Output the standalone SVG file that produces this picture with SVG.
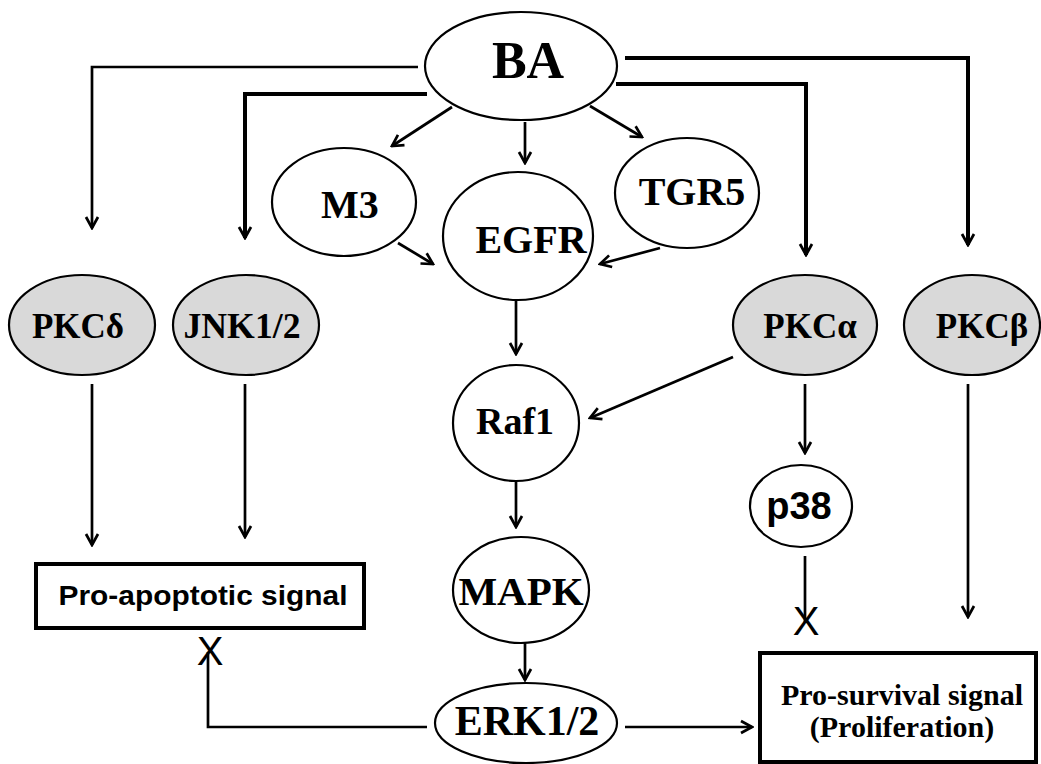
<svg xmlns="http://www.w3.org/2000/svg" width="1041" height="764" viewBox="0 0 1041 764">
<style>
.n{fill:#fff;stroke:#000;stroke-width:2.2}
.g{fill:#d9d9d9;stroke:#000;stroke-width:2.2}
.t{font-family:"Liberation Serif","Times New Roman",serif;font-weight:bold;fill:#000;text-anchor:middle}
.s{font-family:"Liberation Sans",Arial,sans-serif;font-weight:bold;fill:#000;text-anchor:middle}
.x{font-family:"Liberation Sans",Arial,sans-serif;font-weight:normal;fill:#000;text-anchor:middle;font-size:40px}
.c{fill:none;stroke:#000;stroke-width:2.7}
.k{fill:none;stroke:#000;stroke-width:4}
.box{fill:#fff;stroke:#000;stroke-width:4}
</style>
<defs>
<marker id="ah" markerUnits="userSpaceOnUse" markerWidth="16" markerHeight="16" viewBox="0 0 16 16" refX="14" refY="8" orient="auto">
<path d="M3,2 L14,8 L3,14" fill="none" stroke="#000" stroke-width="2.7"/>
</marker>
</defs>
<rect width="1041" height="764" fill="#fff"/>
<g id="connectors">
<path class="c" d="M418,67 H92 V228" marker-end="url(#ah)"/>
<path class="k" d="M427,94 H245 V238" marker-end="url(#ah)"/>
<path class="k" d="M625,58 H968 V245" marker-end="url(#ah)"/>
<path class="k" d="M616,84 H806 V255" marker-end="url(#ah)"/>
<path class="c" d="M452,107 L392,146" marker-end="url(#ah)"/>
<path class="c" d="M525,122 V163" marker-end="url(#ah)"/>
<path class="c" d="M590,106 L642,137" marker-end="url(#ah)"/>
<path class="c" d="M398,243 L433,264" marker-end="url(#ah)"/>
<path class="c" d="M660,248 L600,264" marker-end="url(#ah)"/>
<path class="c" d="M516,300 V354" marker-end="url(#ah)"/>
<path class="c" d="M733,357 L590,418" marker-end="url(#ah)"/>
<path class="c" d="M805,384 V453" marker-end="url(#ah)"/>
<path class="c" d="M92,384 V545" marker-end="url(#ah)"/>
<path class="c" d="M245,384 V537" marker-end="url(#ah)"/>
<path class="c" d="M968,384 V617" marker-end="url(#ah)"/>
<path class="c" d="M516,482 V527" marker-end="url(#ah)"/>
<path class="c" d="M525,643 V680" marker-end="url(#ah)"/>
<path class="c" d="M625,727 H752" marker-end="url(#ah)"/>
<path class="c" d="M805,556 V622"/>
<path class="c" d="M427,727 H208 V652"/>
<text class="x" x="806" y="635">X</text>
<text class="x" x="210" y="665">X</text>
</g>
<g id="BA"><ellipse class="n" cx="521" cy="66" rx="96" ry="54"/><text class="t" x="528" y="78" font-size="52">BA</text></g>
<g id="M3"><ellipse class="n" cx="344" cy="202" rx="72" ry="54"/><text class="t" x="350" y="218" font-size="40">M3</text></g>
<g id="EGFR"><ellipse class="n" cx="518" cy="236" rx="75" ry="64"/><text class="t" x="531" y="253" font-size="40">EGFR</text></g>
<g id="TGR5"><ellipse class="n" cx="687" cy="193" rx="72" ry="55"/><text class="t" x="692" y="205" font-size="40">TGR5</text></g>
<g id="PKCd"><ellipse class="g" cx="82" cy="325" rx="73" ry="50"/><text class="t" x="78" y="338" font-size="35">PKCδ</text></g>
<g id="JNK"><ellipse class="g" cx="246" cy="325" rx="73" ry="50"/><text class="t" x="242" y="338" font-size="35" textLength="117" lengthAdjust="spacingAndGlyphs">JNK1/2</text></g>
<g id="PKCa"><ellipse class="g" cx="805" cy="325" rx="72" ry="50"/><text class="t" x="810" y="338" font-size="35">PKCα</text></g>
<g id="PKCb"><ellipse class="g" cx="972" cy="325" rx="68" ry="50"/><text class="t" x="982" y="338" font-size="35">PKCβ</text></g>
<g id="Raf1"><ellipse class="n" cx="516" cy="423" rx="63" ry="58"/><text class="t" x="515" y="434" font-size="38">Raf1</text></g>
<g id="p38"><ellipse class="n" cx="801" cy="506" rx="51" ry="41"/><text class="s" x="799" y="519" font-size="38">p38</text></g>
<g id="MAPK"><ellipse class="n" cx="521" cy="590" rx="68" ry="53"/><text class="t" x="521" y="605" font-size="41">MAPK</text></g>
<g id="ERK"><ellipse class="n" cx="526" cy="723" rx="91" ry="40"/><text class="t" x="527" y="735" font-size="42">ERK1/2</text></g>
<g id="apoptotic"><rect class="box" x="36" y="564" width="328" height="64"/><text class="s" x="203" y="605" font-size="28" textLength="289" lengthAdjust="spacingAndGlyphs">Pro-apoptotic signal</text></g>
<g id="survival"><rect class="box" x="760" y="653" width="276" height="109"/><text class="t" x="902" y="705" font-size="30">Pro-survival signal</text><text class="t" x="902" y="737" font-size="30">(Proliferation)</text></g>
</svg>
